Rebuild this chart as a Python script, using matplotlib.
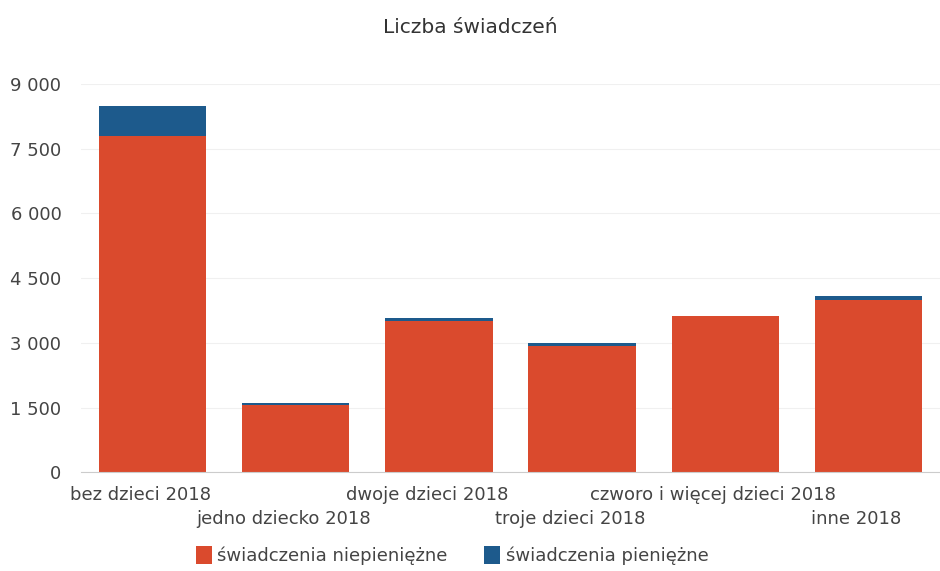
import matplotlib
matplotlib.use('Agg')
import matplotlib.pyplot as plt
import matplotlib.ticker as mtick
import matplotlib.transforms as mtrans

plt.rcParams['font.family'] = ['DejaVu Sans']

# === DATA ===
categories = ['bez dzieci 2018', 'jedno dziecko 2018', 'dwoje dzieci 2018',
              'troje dzieci 2018', 'czworo i więcej dzieci 2018', 'inne 2018']
niepieniezne = [7800, 1560, 3500, 2930, 3610, 3990]
pieniezne = [700, 40, 70, 60, 10, 90]
y_ticks = [0, 1500, 3000, 4500, 6000, 7500, 9000]

RED = '#da4a2d'
BLUE = '#1d5a8c'

fig = plt.figure(figsize=(9.4, 5.71), dpi=100)
ax = fig.add_axes([0.086, 0.173, 0.914, 0.680])

x = list(range(len(categories)))
ax.bar(x, niepieniezne, width=0.75, color=RED, label='świadczenia niepieniężne')
ax.bar(x, pieniezne, width=0.75, bottom=niepieniezne, color=BLUE,
       label='świadczenia pieniężne')

ax.set_xlim(-0.5, len(categories) - 0.5)
ax.set_ylim(0, 9000)
ax.set_yticks(y_ticks)
ax.yaxis.set_major_formatter(mtick.FuncFormatter(lambda v, p: f'{int(v):,}'.replace(',', ' ')))
ax.grid(axis='y', color='#f0f0f0', linewidth=0.8)
ax.set_axisbelow(True)
for s in ['top', 'right', 'left']:
    ax.spines[s].set_visible(False)
ax.spines['bottom'].set_color('#cccccc')
ax.tick_params(axis='y', length=0, labelsize=13, labelcolor='#444444', pad=14)
ax.tick_params(axis='x', length=0, labelsize=13, labelcolor='#444444')

# staggered category labels, nudged a little left like the original
ax.set_xticks(x)
ax.set_xticklabels(categories)
shift = mtrans.ScaledTranslation(-0.12, 0, fig.dpi_scale_trans)
for i, t in enumerate(ax.xaxis.get_major_ticks()):
    t.set_pad(10 if i % 2 == 0 else 27)
for lbl in ax.get_xticklabels():
    lbl.set_transform(lbl.get_transform() + shift)

fig.text(0.5, 0.951, 'Liczba świadczeń', ha='center', va='center',
         fontsize=14.5, color='#333333')

ax.legend(loc='center', bbox_to_anchor=(0.432, -0.215), ncol=2,
          frameon=False, fontsize=13, handlelength=0.9, handleheight=1.1,
          handletextpad=0.3, columnspacing=2.0, labelcolor='#444444')

fig.savefig('out.png', dpi=100, facecolor='white')
